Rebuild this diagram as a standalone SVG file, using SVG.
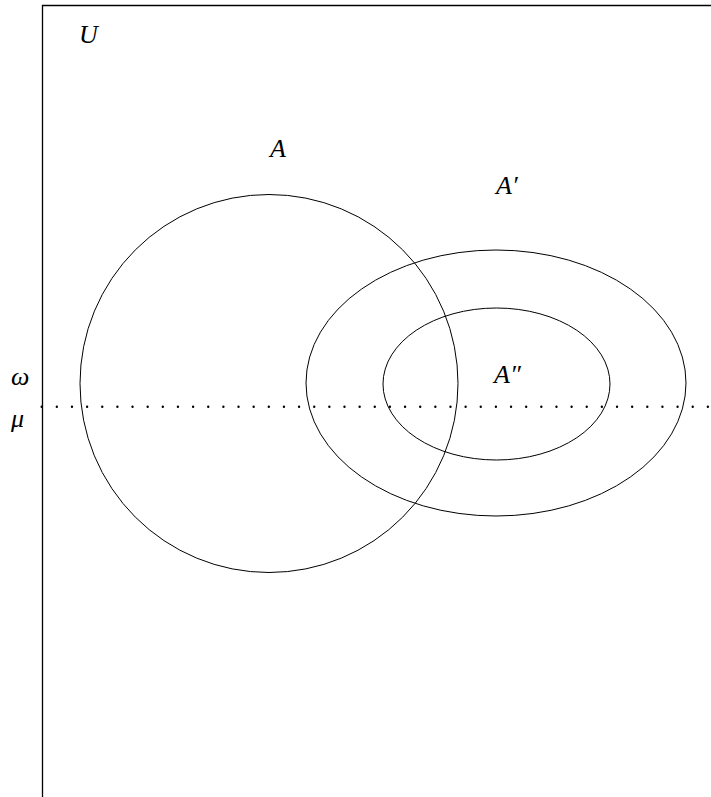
<svg xmlns="http://www.w3.org/2000/svg" width="711" height="797" viewBox="0 0 711 797">
<style>
.s{fill:none;stroke:#000;stroke-width:1}
.t{font-family:"Liberation Serif","Times New Roman",serif;font-style:italic;font-size:26px;fill:#000}
</style>
<rect width="711" height="797" fill="#fff"/>
<g id="frame">
<path d="M42.5,797 V5.5 H711" fill="none" stroke="#000" stroke-width="1.3"/>
<text class="t" x="79" y="43">U</text>
</g>
<g id="connectors">
<line x1="41.7" y1="406.7" x2="711" y2="406.7" stroke="#000" stroke-width="2.4" stroke-linecap="round" stroke-dasharray="0 15.14"/>
</g>
<g id="axis-labels">
<text class="t" x="11" y="385">ω</text>
<text class="t" x="11" y="427">μ</text>
</g>
<g id="A">
<circle class="s" cx="269" cy="383.5" r="189"/>
<text class="t" x="270" y="157">A</text>
</g>
<g id="A1">
<ellipse class="s" cx="496" cy="383" rx="190" ry="133"/>
<text class="t" x="496" y="194">A′</text>
</g>
<g id="A2">
<ellipse class="s" cx="496.5" cy="384" rx="113.5" ry="76"/>
<text class="t" x="494" y="383">A″</text>
</g>
</svg>
